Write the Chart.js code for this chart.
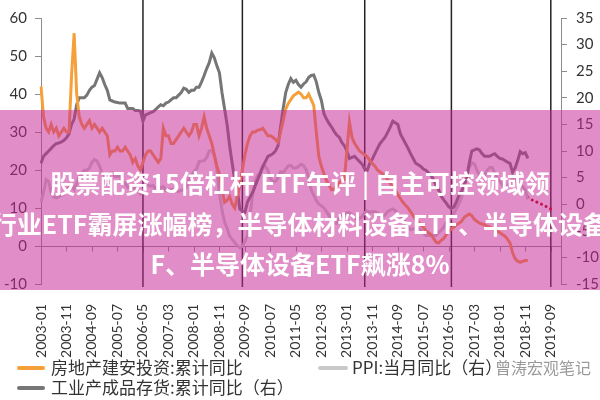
<!DOCTYPE html>
<html><head><meta charset="utf-8">
<script src="https://cdn.jsdelivr.net/npm/chart.js@4.4.0/dist/chart.umd.min.js"></script>
<style>
html,body{margin:0;padding:0;background:#fff;overflow:hidden;}
#wrap{position:relative;width:600px;height:400px;overflow:hidden;}
#c{position:absolute;left:0;top:0;}
.banner{position:absolute;left:0;top:110px;width:600px;height:180px;background:rgba(198,40,150,0.53);}
.bl{position:absolute;left:-200px;width:1000px;text-align:center;white-space:nowrap;color:#fff;font-family:"Noto Sans CJK SC";font-weight:bold;font-size:25px;line-height:30px;}
.lg{position:absolute;font-family:"Noto Sans CJK SC";font-size:17px;color:#333;white-space:nowrap;line-height:20px;}
.sw{position:absolute;height:4px;border-radius:2px;}
</style></head><body>
<div id="wrap">
<canvas id="c" width="600" height="400"></canvas>
<div class="banner"></div>
<div class="bl" style="top:167px">股票配资15倍杠杆 ETF午评 | 自主可控领域领</div>
<div class="bl" style="top:208px">行业ETF霸屏涨幅榜，半导体材料设备ETF、半导体设备</div>
<div class="bl" style="top:248px">F、半导体设备ETF飙涨8%</div>
<div class="sw" style="left:17px;top:366px;width:28px;background:#F5A03A"></div>
<div class="lg" style="left:51px;top:357px">房地产建安投资:累计同比</div>
<div class="sw" style="left:17px;top:386px;width:28px;background:#767676"></div>
<div class="lg" style="left:51px;top:377px">工业产成品存货:累计同比（右）</div>
<div class="sw" style="left:318px;top:366px;width:30px;background:#C9C9C9"></div>
<div class="lg" style="left:352px;top:357px">PPI:当月同比（右）</div>
<div class="lg" style="left:495px;top:357px;color:#9a9a9a;font-size:16px">曾涛宏观笔记</div>
</div>
<script>
// categories: monthly 2003-01 .. 2020-01
const categories = [];
for (let y = 2003; y <= 2020; y++) {
  for (let m = 1; m <= 12; m++) {
    if (y === 2020 && m > 1) break;
    categories.push(y + '-' + String(m).padStart(2, '0'));
  }
}
// 房地产建安投资:累计同比 (left axis), 2003-01 .. 2018-12
const construction = [
  42, 34, 31, 30, 32, 30, 31, 29, 30, 31, 30, 30,
  45, 56, 40, 34, 32, 31, 32, 33, 31, 32, 31, 30,
  31, 30, 29, 24, 25, 25, 26, 25, 25, 26, 25, 24,
  22, 23, 21, 20, 22, 24, 25, 25, 24, 23, 22, 23,
  31, 29, 29, 27, 27, 28, 29, 30, 31, 30, 29, 30,
  32, 32, 29, 31, 34, 31, 29, 27, 24, 21, 19, 15,
  11.5, 12, 13, 11, 10, 13, 16, 20, 24, 27, 29, 30,
  30, 30.5, 30.6, 31, 30, 29, 29, 28.6, 28, 27.3, 30, 33,
  36, 37.5, 38.5, 39.5, 40, 40.5, 40, 39, 39, 40, 38.5, 37,
  30, 23.5, 21, 19, 17.3, 16, 14.8, 15, 15.8, 16.5, 17.3, 17.5,
  25, 32.6, 28.6, 27, 26, 25, 24.5, 24, 23.5, 22.5, 21.7, 21,
  20, 19.5, 19, 18.4, 17.5, 16.5, 15.5, 14.8, 13.5, 12.5, 11.5, 10.7,
  10, 9, 8, 7, 6.4, 5.5, 5, 4, 3.5, 3, 2, 1,
  0.8, 1.5, 2, 3, 3.8, 4.5, 5, 5.6, 6, 6.5, 7.5, 8,
  8.4, 8, 7, 6.5, 6, 5.8, 5.6, 5.2, 5, 4.6, 4.3, 4,
  3.5, 3, 2.6, 1.8, 0.8, -1.8, -3.3, -4, -4.3, -4, -3.8, -3.8
];
// PPI:当月同比 (right axis), 2003-01 .. 2018-12
const ppi = [
  0.4, 2.2, 4.6, 4.3, 2.1, 1.3, 1.2, 1.4, 1.7, 1.8, 2.4, 3.2,
  3.5, 2.8, 3.9, 5.0, 5.7, 6.4, 6.4, 6.8, 7.9, 8.4, 8.1, 7.1,
  5.8, 5.4, 5.6, 5.8, 5.9, 5.2, 5.2, 5.3, 4.0, 4.0, 3.2, 3.2,
  3.0, 3.0, 2.5, 1.9, 2.4, 3.5, 3.6, 3.4, 3.5, 2.9, 2.8, 3.1,
  3.3, 2.6, 2.7, 2.8, 2.8, 2.5, 2.4, 2.6, 2.7, 3.2, 4.6, 5.4,
  6.1, 6.6, 8.0, 8.1, 8.2, 8.8, 10.0, 10.1, 9.1, 6.6, 2.0, -1.1,
  -3.3, -4.5, -6.0, -6.6, -7.2, -7.8, -8.2, -7.9, -7.0, -5.8, -2.1, 1.7,
  4.3, 5.4, 5.9, 6.8, 7.1, 6.4, 4.8, 4.3, 4.3, 5.0, 6.1, 5.9,
  6.6, 7.2, 7.3, 6.8, 6.8, 7.1, 7.5, 7.3, 6.5, 5.0, 2.7, 1.7,
  0.7, 0.0, -0.3, -0.7, -1.4, -2.1, -2.9, -3.5, -3.6, -2.8, -2.2, -1.9,
  -1.6, -1.6, -1.9, -2.6, -2.9, -2.7, -2.3, -1.6, -1.3, -1.5, -1.4, -1.4,
  -1.6, -2.0, -2.3, -2.0, -1.4, -1.1, -0.9, -1.2, -1.8, -2.2, -2.7, -3.3,
  -4.3, -4.8, -4.6, -4.6, -4.6, -4.8, -5.4, -5.9, -5.9, -5.9, -5.9, -5.9,
  -5.3, -4.9, -4.3, -3.4, -2.8, -2.6, -1.7, -0.8, 0.1, 1.2, 3.3, 5.5,
  6.9, 7.8, 7.6, 6.4, 5.5, 5.5, 5.5, 6.3, 6.9, 6.9, 5.8, 4.9,
  4.3, 3.7, 3.1, 3.4, 4.1, 4.7, 4.6, 4.1, 3.6, 3.3, 2.7, 0.9
];
// 工业产成品存货:累计同比 (right axis), 2003-01 .. 2018-12
const inventory = [
  7.7, 9, 9.5, 10, 10.5, 11, 11.4, 11.5, 11.7, 12, 12.5, 13.2,
  15, 16, 18.7, 20, 20, 20, 20.5, 21.4, 22, 22.3, 23.5, 24.7,
  23.8, 22.5, 21.4, 19.6, 19.4, 19.2, 19.1, 19, 19, 19, 18, 18,
  18, 17.6, 17.6, 17.5, 15.6, 16.8, 17, 17.2, 17.4, 17.8, 18.3, 18.7,
  18.5, 19, 19.2, 19.6, 20, 20, 20.5, 21, 21.8, 21.6, 21, 21.4,
  21.4, 22, 22, 23, 24.2, 25.5, 26.6, 28.4, 27.5, 26, 24.7, 21,
  18, 15, 11, 7.7, 4.5, 2.7, -0.9, -1.3, -1.5, 0.4, 1.3, 2.2,
  3.4, 4.6, 5.8, 7.1, 8, 9, 9.2, 9.5, 10, 11, 14.5, 18,
  21, 22.5, 23.6, 22.9, 23.3, 22.5, 22, 22.6, 23, 23.8, 24.2, 24.3,
  23, 21, 19.5, 17, 16, 15.2, 14.5, 13.7, 13, 12.6, 11.6, 11,
  10, 8.6, 8.8, 9, 8.5, 8, 7.5, 6.6, 6.4, 7.7, 8.5, 9.5,
  10.5, 11.4, 12, 12.6, 13.5, 14.5, 15.6, 15.3, 15, 13.2, 12.3, 11.4,
  10.5, 9.5, 8.6, 7.7, 7.4, 7.1, 6.6, 6.4, 5.9, 5.5, 4.6, 3.5,
  2.7, 1.5, 0.8, 0.2, -0.5, -0.8, -0.5, 0.5, 1.7, 2.5, 3.5, 5,
  7.7, 10, 10.2, 10.4, 10.2, 9.5, 9, 9, 9, 9.3, 9.5, 9,
  8.6, 8.5, 8.2, 7.9, 7.7, 6, 6.8, 8.2, 9.9, 9.5, 9.7, 8.6
];
// PPI dotted projection (right axis), from 2018-12
const ppiForecastStart = '2018-12';
const ppiForecast = [1.3, 1.0, 0.7, 0.5, 0.3, 0.1, -0.2, -0.4, -0.6, -0.9, -1.1];
// marker months (vertical lines)
const markerMonths = ['2006-05', '2009-08', '2013-08', '2016-06', '2019-09'];
const leftTicks = {min: -10, max: 60, step: 10};
const rightTicks = {min: -15, max: 35, step: 5};

const fcStartIdx = categories.indexOf(ppiForecastStart);
const forecastPoints = ppiForecast.map((v, i) => ({x: categories[fcStartIdx + i], y: v}));

const markerPlugin = {
  id: 'markers',
  beforeDatasetsDraw(chart) {
    const {ctx, chartArea, scales} = chart;
    const x = scales.x, yL = scales.yL;
    const y0 = Math.round(yL.getPixelForValue(0)) + 0.5;
    ctx.save();
    ctx.strokeStyle = '#8c8c8c';
    ctx.lineWidth = 1;
    ctx.beginPath();
    ctx.moveTo(chartArea.left, y0);
    ctx.lineTo(chartArea.right, y0);
    categories.forEach((c, i) => {
      if (i % 10 === 0) {
        const px = Math.round(x.getPixelForValue(i)) + 0.5;
        ctx.moveTo(px, y0);
        ctx.lineTo(px, y0 + 5);
      }
    });
    ctx.stroke();
    ctx.strokeStyle = '#222';
    ctx.lineWidth = 1.5;
    markerMonths.forEach(m => {
      const px = x.getPixelForValue(categories.indexOf(m));
      ctx.beginPath();
      ctx.moveTo(px, 0);
      ctx.lineTo(px, chartArea.bottom + 3);
      ctx.stroke();
    });
    ctx.restore();
  }
};

const tickFont = {family: 'Lato', size: 15};
new Chart(document.getElementById('c'), {
  type: 'line',
  data: {
    labels: categories,
    datasets: [
      {label: '房地产建安投资:累计同比', data: construction, yAxisID: 'yL', borderColor: '#F5A03A', borderWidth: 3, pointRadius: 0, tension: 0},
      {label: '工业产成品存货:累计同比（右）', data: inventory, yAxisID: 'yR', borderColor: '#767676', borderWidth: 3, pointRadius: 0, tension: 0},
      {label: 'PPI:当月同比（右）', data: ppi, yAxisID: 'yR', borderColor: '#C9C9C9', borderWidth: 3, pointRadius: 0, tension: 0},
      {label: 'PPI预测', data: forecastPoints, yAxisID: 'yR', borderColor: '#C00000', borderWidth: 3, borderDash: [0.1, 5], borderCapStyle: 'round', pointRadius: 0, tension: 0}
    ]
  },
  options: {
    responsive: false,
    animation: false,
    devicePixelRatio: 1,
    layout: {padding: {top: 12, left: 0, right: 0, bottom: 0}},
    plugins: {legend: {display: false}, tooltip: {enabled: false}},
    scales: {
      x: {
        type: 'category', offset: false,
        grid: {display: false, drawTicks: false},
        border: {display: false},
        ticks: {
          autoSkip: false, maxRotation: 90, minRotation: 90, padding: 20,
          font: {family: 'Lato', size: 14}, color: '#333',
          callback: function (v, i) { return i % 10 === 0 ? this.getLabelForValue(v) : null; }
        },
        afterFit(s) { s.height = 116; }
      },
      yL: {
        position: 'left', min: leftTicks.min, max: leftTicks.max,
        ticks: {stepSize: leftTicks.step, font: tickFont, color: '#333', padding: 8},
        grid: {drawOnChartArea: false, tickLength: 6, color: '#8c8c8c'},
        border: {color: '#8c8c8c'},
        afterFit(s) { s.width = 41; }
      },
      yR: {
        position: 'right', min: rightTicks.min, max: rightTicks.max,
        ticks: {stepSize: rightTicks.step, font: tickFont, color: '#333', padding: 9},
        grid: {drawOnChartArea: false, tickLength: 6, color: '#8c8c8c'},
        border: {color: '#8c8c8c'},
        afterFit(s) { s.width = 39; }
      }
    }
  },
  plugins: [markerPlugin]
});
</script>
</body></html>
